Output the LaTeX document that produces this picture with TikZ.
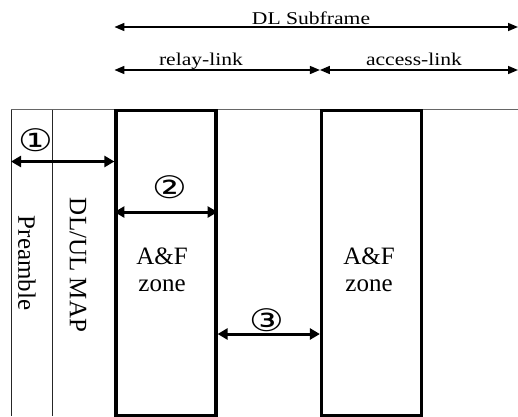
\documentclass[tikz,border=0pt]{standalone}
\usepackage{fontspec}
\usepackage{graphicx}
\setmainfont{Liberation Serif}
\newfontfamily\circfont{DejaVu Sans}
\usetikzlibrary{arrows.meta}
\tikzset{
  thinframe/.style={line width=0.9pt, draw=black!85},
  zone/.style={draw=black, line width=3.2pt, rectangle, inner sep=0pt, minimum width=100pt, minimum height=305pt},
  toparrow/.style={line width=1.5pt, {Triangle[length=10pt,width=8pt]}-{Triangle[length=10pt,width=8pt]}},
  bigarrow/.style={line width=3pt, {Triangle[length=10pt,width=11pt]}-{Triangle[length=10pt,width=11pt]}},
  toplabel/.style={inner sep=0pt, font=\fontsize{18}{18}\selectfont, anchor=base},
  bodytext/.style={inner sep=0pt, font=\fontsize{25}{27}\selectfont, align=center},
  circ/.style={inner sep=0pt, font=\circfont\fontsize{31}{31}\selectfont},
}
\begin{document}
\begin{tikzpicture}[x=1pt,y=-1pt]
\useasboundingbox (0,0) rectangle (518,416);
% frame
\coordinate (ftl) at (11,109.5);
\coordinate (ftr) at (518,109.5);
\coordinate (fbl) at (11,416);
\coordinate (dtop) at (52,109.5);
\coordinate (dbot) at (52,416);
\draw[thinframe, draw=black!60] (ftl) -- (ftr);
\draw[thinframe] (ftl) -- (fbl);
\draw[thinframe] (dtop) -- (dbot);
% zones
\node[zone] (z1) at (166,263) {};
\node[zone] (z2) at (371.5,263) {};
\node[bodytext] (t1) at (162,270) {A\&F\\zone};
\node[bodytext] (t2) at (369,270) {A\&F\\zone};
% rotated texts
\node[inner sep=0pt, font=\fontsize{25}{25}\selectfont, rotate=-90] (pre) at (27,263) {Preamble};
\node[inner sep=0pt, font=\fontsize{25}{25}\selectfont, rotate=-90] (map) at (78,265) {DL/UL MAP};
% top arrows
\coordinate (a1) at (z1.west |- 0,27);
\coordinate (a2) at (518,27);
\draw[toparrow] (a1) -- (a2);
\node[toplabel] (lsub) at (311,24) {\scalebox{1.2}[1]{DL Subframe}};
\coordinate (b1) at (z1.west |- 0,70);
\coordinate (b2) at (z2.west |- 0,70);
\coordinate (b3) at (518,70);
\draw[toparrow] (b1) -- (b2);
\draw[toparrow] (b2) -- (b3);
\node[toplabel] (lrel) at (201,65) {\scalebox{1.2}[1]{relay-link}};
\node[toplabel] (lacc) at (414,65) {\scalebox{1.2}[1]{access-link}};
% numbered arrows
\coordinate (c1) at (11,161.5);
\coordinate (c2) at (z1.west |- 0,161.5);
\draw[bigarrow] (c1) -- (c2);
\node[circ] (n1) at (36,140) {\scalebox{1.25}[1]{①}};
\coordinate (d1) at (z1.west |- 0,212);
\coordinate (d2) at (z1.east |- 0,212);
\draw[bigarrow] (d1) -- (d2);
\node[circ] (n2) at (170,187) {\scalebox{1.25}[1]{②}};
\coordinate (e1) at (z1.east |- 0,334);
\coordinate (e2) at (z2.west |- 0,334);
\draw[bigarrow] (e1) -- (e2);
\node[circ] (n3) at (267,320) {\scalebox{1.25}[1]{③}};
\end{tikzpicture}
\end{document}
